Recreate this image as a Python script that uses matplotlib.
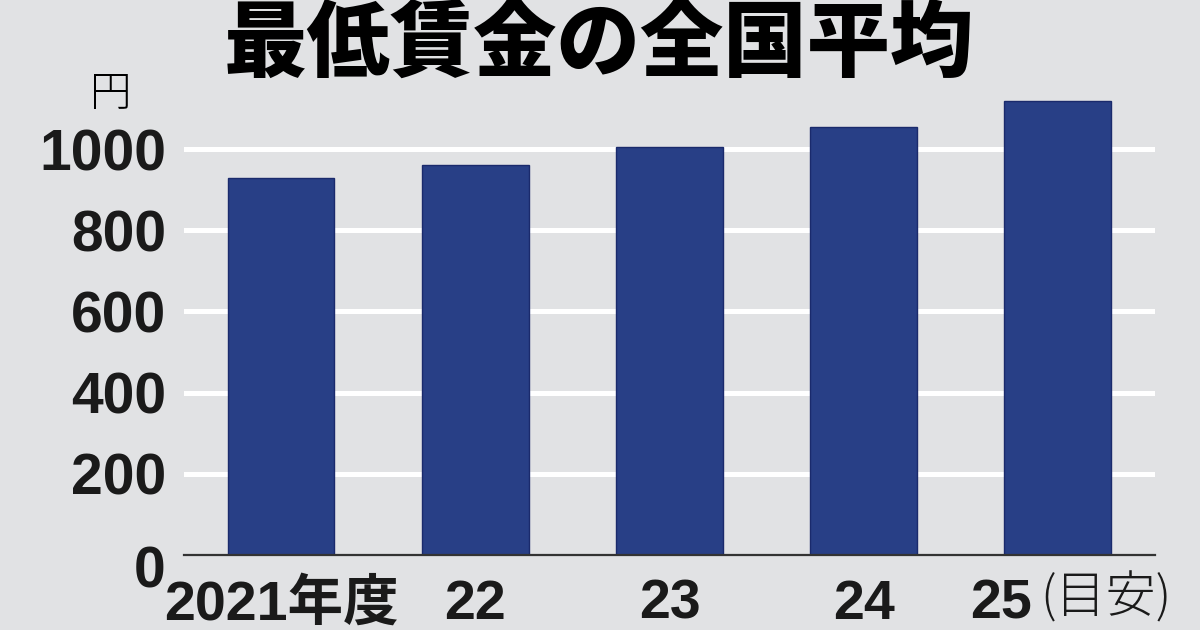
import matplotlib
matplotlib.use("Agg")
import matplotlib.pyplot as plt
from matplotlib import font_manager
from matplotlib.transforms import ScaledTranslation

# data
years = ["2021年度", "22", "23", "24", "25"]
wages = [930, 961, 1004, 1055, 1118]
yticks = [0, 200, 400, 600, 800, 1000]

names = {f.name for f in font_manager.fontManager.ttflist}
narrow = "Liberation Sans Narrow" if "Liberation Sans Narrow" in names else "Liberation Sans"
jp = "Noto Sans CJK JP"

bg = "#e1e2e4"
bar_color = "#283f86"
txt = "#1a1a1a"

fig = plt.figure(figsize=(12, 6.3), dpi=100, facecolor=bg)
ax = fig.add_axes([0.1533, 0.119, 0.8092, 0.741])
ax.set_facecolor(bg)

x = list(range(len(years)))
ax.bar(x, wages, width=0.55, color=bar_color, edgecolor="#1a2a6c", linewidth=1, zorder=3)

for t in yticks[1:]:
    ax.axhline(t, color="white", linewidth=3.6, zorder=1)

ax.set_xlim(-0.5, 4.5)
ax.set_ylim(0, 1150)

for s in ["top", "right", "left"]:
    ax.spines[s].set_visible(False)
ax.spines["bottom"].set_color("#333333")
ax.spines["bottom"].set_linewidth(1.6)
ax.spines["bottom"].set_zorder(4)

ax.set_yticks(yticks)
ax.set_yticklabels([""] + [str(v) for v in yticks[1:]], family=[narrow, jp], fontsize=41,
                   fontweight="bold", color=txt)
ax.tick_params(axis="y", length=0, pad=13)
# the 0 label sits a bit lower in the original
ax.annotate(str(yticks[0]), xy=(0, yticks[0]), xycoords=("axes fraction", "data"),
            xytext=(-13, -8), textcoords="offset points", ha="right", va="center_baseline",
            family=[narrow, jp], fontsize=41, fontweight="bold", color=txt)

ax.set_xticks(x)
ax.set_xticklabels(years, family=[narrow, jp], fontsize=40, fontweight="bold", color=txt)
ax.tick_params(axis="x", length=0, pad=17)

# last label "25" is shifted left to make room for (目安)
last = ax.get_xticklabels()[-1]
last.set_transform(last.get_transform() + ScaledTranslation(-57 / 100, 0, fig.dpi_scale_trans))
ax.annotate("(目安)", xy=(4, 0), xycoords="data", xytext=(-13, -13), textcoords="offset points",
            ha="left", va="top", family=[jp], fontsize=36, fontweight="light", color=txt,
            annotation_clip=False)

fig.text(0.092, 0.851, "円", ha="center", va="center", family=[jp], fontsize=30,
         fontweight="light")
fig.text(0.499, 0.928, "最低賃金の全国平均", ha="center", va="center", family=[jp],
         fontsize=60, fontweight="heavy")

fig.savefig("out.png", dpi=100, facecolor=bg)
